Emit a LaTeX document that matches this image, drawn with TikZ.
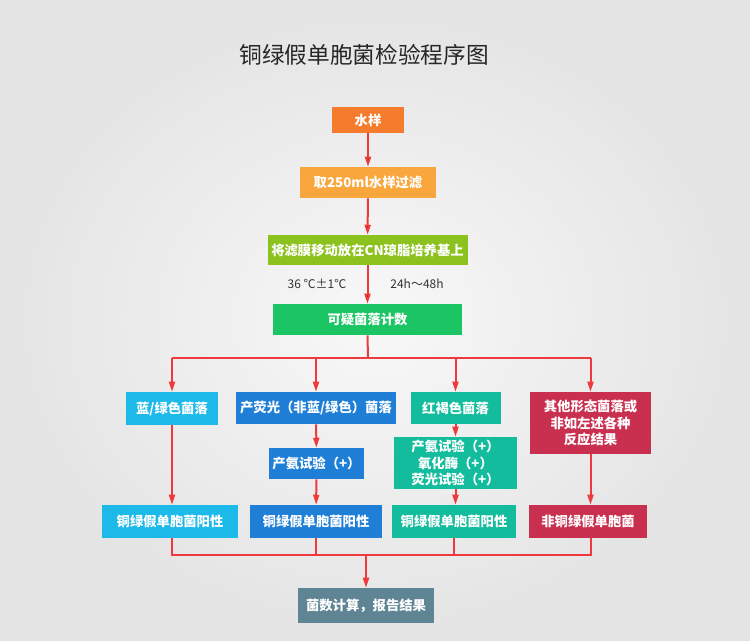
\documentclass[tikz,border=0pt]{standalone}
\usepackage{fontspec}
\setmainfont{Noto Sans CJK SC}
\usetikzlibrary{shapes,arrows.meta,positioning}
\definecolor{bgin}{HTML}{F8F8F8}
\definecolor{bgout}{HTML}{E4E4E4}
\definecolor{orng}{HTML}{F47C2C}
\definecolor{lorng}{HTML}{F9A63C}
\definecolor{lime}{HTML}{8CC21E}
\definecolor{grn}{HTML}{1BC563}
\definecolor{sky}{HTML}{1DB9E8}
\definecolor{blu}{HTML}{1F7ED6}
\definecolor{teal}{HTML}{13BC9C}
\definecolor{crim}{HTML}{C9304F}
\definecolor{slate}{HTML}{5F8595}
\definecolor{wire}{HTML}{EE3A3C}
\def\Pos{铜绿假单胞菌阳性}

\begin{document}
\begin{tikzpicture}[% 1 unit = 1 px of the 750x640 frame
			x=0.75pt,y=-0.75pt,
			every node/.style={
				align=center,		% so that "\\" breaks a line
				inner sep=0pt
			},
			box/.style={rectangle,fill=#1,text=white,font=\bfseries\fontsize{10}{12.5}\selectfont},
			wh/.style 2 args={minimum width=#1*0.75pt,minimum height=#2*0.75pt},
			note/.style={text=black!80,font=\fontsize{9}{11}\selectfont},
			link/.style={draw=wire,line width=1.5pt},
			arr/.style={link,-{Triangle[length=7.5pt,width=4.5pt]}}
		]
		\shade[inner color=bgin,outer color=bgout] (0,0) rectangle (750,640);
		\useasboundingbox (0,0) rectangle (750,640);
		\node[text=black!85,font=\fontsize{17}{20}\selectfont](T) at (364,55){铜绿假单胞菌检验程序图};
		% main chain
		\node[box=orng,wh={72}{26}](S1) at (368,120){水样};
		\node[box=lorng,wh={136}{31}](S2) at (368,182.5){取250ml水样过滤};
		\node[box=lime,wh={200}{30}](S3) at (367.5,250){将滤膜移动放在CN琼脂培养基上};
		\node[note](N1) at (317,284){36 ℃±1℃};
		\node[note](N2) at (417,284){24h～48h};
		\node[box=grn,wh={189}{31}](S4) at (367.5,319.5){可疑菌落计数};
		% colony types
		\node[box=sky,wh={92}{33}](C1) at (172,408.5){蓝/绿色菌落};
		\node[box=blu,wh={160}{32}](C2) at (316,408){产荧光（非蓝/绿色）菌落};
		\node[box=teal,wh={90}{32}](C3) at (455.5,408){红褐色菌落};
		\node[box=crim,wh={121}{62}](C4) at (590.5,423){其他形态菌落或\\非如左述各种\\反应结果};
		% tests
		\node[box=blu,wh={95}{31}](T2) at (316.5,463.5){产氨试验（+）};
		\node[box=teal,wh={123}{52}](T3) at (455.5,463){产氨试验（+）\\氧化酶（+）\\荧光试验（+）};
		% results
		\node[box=sky,wh={136}{33}](R1) at (170,521.5){\Pos};
		\node[box=blu,wh={132}{33}](R2) at (316,521.5){\Pos};
		\node[box=teal,wh={124}{33}](R3) at (454,521.5){\Pos};
		\node[box=crim,wh={118}{33}](R4) at (588,521.5){非铜绿假单胞菌};
		\node[box=slate,wh={136}{35}](F) at (366,605.5){菌数计算，报告结果};
		\coordinate (B) at (368,358);
		\coordinate (M) at (366,555);
		\path[arr]
		(S1) edge [] (S2)
		(S2) edge [] (S3)
		(S3) edge [] (S4)
		;
		\draw[link] (S4.south) -- (B);
		\draw[link] (C1.north |- B) -- (C4.north |- B);
		\foreach \c in {C1,C2,C3,C4}
			\draw[arr] (\c.north |- B) -- (\c.north);
		\draw[arr] (C1.south) -- (C1.south |- R1.north);
		\draw[arr] (C2) -- (T2);
		\draw[arr] (T2) -- (R2);
		\draw[arr] (C3.south) -- (C3.south |- T3.north);
		\draw[arr] (T3.south) -- (T3.south |- R3.north);
		\draw[arr] (C4.south) -- (C4.south |- R4.north);
		\draw[link] (C1.south |- R1.south) -- (C1.south |- M) -- (C4.south |- M) -- (C4.south |- R4.south);
		\foreach \c in {R2,R3}
			\draw[link] (\c.south) -- (\c.south |- M);
		\draw[arr] (M) -- (F.north);
	\end{tikzpicture}
\end{document}
